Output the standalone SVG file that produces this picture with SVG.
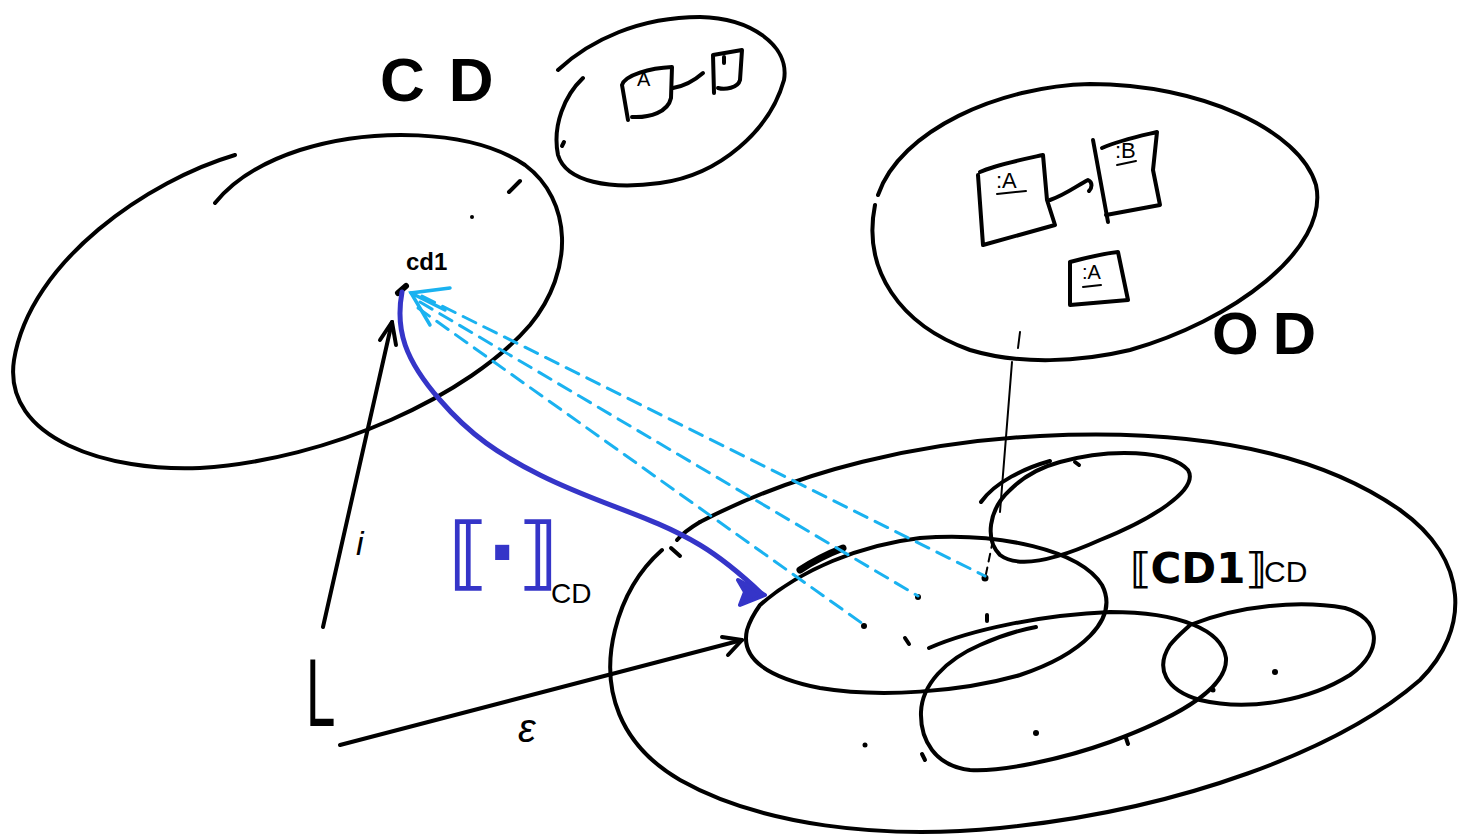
<svg xmlns="http://www.w3.org/2000/svg" width="1468" height="838" viewBox="0 0 1468 838">
<defs>
<style>
.s{fill:none;stroke:#000;stroke-width:4;stroke-linecap:round;stroke-linejoin:round}
.t{fill:none;stroke:#000;stroke-width:2;stroke-linecap:round}
.dot{fill:#000}
.lb{fill:none;stroke:#1ab2f0;stroke-width:3;stroke-dasharray:14 9;stroke-linecap:round}
.lbs{fill:none;stroke:#1ab2f0;stroke-width:3.5;stroke-linecap:round}
.db{fill:none;stroke:#3535c8;stroke-width:5;stroke-linecap:round;stroke-linejoin:round}
.txt{font-family:"Liberation Sans","DejaVu Sans",sans-serif;fill:#000}
</style>
</defs>
<rect width="1468" height="838" fill="#fff"/>

<g id="cd-set">
<path class="s" d="M235,155 C150,180 30,260 14,360 C2,440 110,472 200,468 C330,460 470,395 530,325 C575,270 572,200 525,165 C470,128 370,128 300,150 C260,163 232,182 215,203"/>
<path class="s" d="M520,181 L509,192"/>
<circle class="dot" cx="472" cy="217" r="2"/>
<text class="txt" x="380" y="101" font-size="62" font-weight="bold" letter-spacing="24">CD</text>
</g>

<g id="cd1-node">
<path d="M398,293 L406,286" stroke="#000" stroke-width="6" stroke-linecap="round"/>
<text class="txt" x="406" y="270" font-size="24" font-weight="bold">cd1</text>
</g>

<g id="cd-example">
<path class="s" d="M583,78 C565,95 552,125 558,155 C566,182 610,190 660,183 C720,175 770,130 784,80 C790,45 750,18 700,17 C640,17 590,40 558,70"/>
<path class="s" d="M564,142 L562,146"/>
<path class="s" d="M628,120 L622,85 C625,75 650,68 672,67 L671,98 C668,112 650,118 632,117"/>
<text class="txt" x="637" y="86" font-size="20">A</text>
<path class="s" d="M673,88 C685,86 695,80 703,73"/>
<path class="s" d="M714,93 L713,55 L742,50 L740,80 C738,88 725,90 718,88"/>
<path class="s" d="M724,57 L724,63"/>
</g>

<g id="od-set">
<path class="s" d="M878,195 C900,130 1000,86 1090,84 C1200,84 1300,130 1316,185 C1330,250 1230,322 1130,350 C1080,362 1020,365 970,350 C900,325 862,270 875,205"/>
<path class="s" d="M978,175 L983,245 L1055,225 L1047,200 L1043,155 C1020,160 995,165 980,172"/>
<text class="txt" x="996" y="188" font-size="22">:A</text>
<path class="t" d="M997,194 L1026,191" stroke-width="3"/>
<path class="s" d="M1050,200 C1065,195 1078,185 1088,180 C1093,182 1092,188 1089,191"/>
<path class="s" d="M1093,140 L1108,222"/>
<path class="s" d="M1102,148 C1120,140 1140,136 1157,132 L1153,170 L1160,205 L1106,215"/>
<text class="txt" x="1115" y="158" font-size="22">:B</text>
<path class="t" d="M1117,165 L1136,161" stroke-width="3"/>
<path class="s" d="M1070,262 L1070,305 L1128,300 L1118,252 C1100,254 1085,258 1070,262"/>
<text class="txt" x="1082" y="279" font-size="20">:A</text>
<path class="t" d="M1083,287 L1101,285" stroke-width="3"/>
<text class="txt" x="1212" y="354" font-size="60" font-weight="bold" letter-spacing="14">OD</text>
</g>

<g id="semantic-domain">
<path class="s" d="M700,522 C800,470 920,442 1040,436 C1160,430 1300,440 1400,510 C1470,560 1470,630 1420,680 C1340,750 1180,810 1000,828 C880,840 760,825 680,780 C620,745 600,690 615,630 C625,590 645,565 662,550"/>
<path class="s" d="M671,548 L680,556"/>
<path class="s" d="M700,522 C690,528 682,534 677,540"/>
</g>

<g id="od-image">
<path class="s" d="M760,605 C800,570 860,545 920,538 C1000,532 1080,550 1102,585 C1120,620 1080,655 1020,675 C960,692 880,698 820,688 C770,678 740,660 747,630 C750,620 755,612 760,605"/>
<path d="M800,570 C815,560 830,553 843,548" stroke="#000" stroke-width="7" fill="none" stroke-linecap="round"/>
</g>

<g id="set-b">
<path class="s" d="M981,502 C995,482 1025,468 1050,461"/>
<path class="s" d="M1075,462 L1079,465"/>
<path class="s" d="M1060,462 C1110,448 1170,450 1188,470 C1200,490 1150,520 1100,540 C1060,558 1020,570 1000,555 C985,540 988,510 1010,490 C1025,475 1045,466 1060,462"/>
</g>

<g id="set-c">
<path class="s" d="M929,648 C970,630 1040,615 1110,612 C1180,612 1222,630 1226,658 C1228,690 1170,720 1110,742 C1060,760 1000,772 970,770 C935,766 920,740 921,712 C922,685 945,660 980,645 C1000,636 1020,630 1036,627"/>
</g>

<g id="set-d">
<path class="s" d="M1190,625 C1240,605 1300,600 1345,608 C1380,618 1385,650 1350,675 C1310,700 1250,712 1200,700 C1165,690 1155,668 1170,645 C1178,635 1185,630 1190,625"/>
</g>

<g id="points">
<circle class="dot" cx="985" cy="578" r="3.5"/>
<circle class="dot" cx="918" cy="597" r="3"/>
<circle class="dot" cx="864" cy="626" r="3"/>
<path class="s" d="M905,638 L909,644"/>
<path class="s" d="M987,615 L987,621"/>
<circle class="dot" cx="865" cy="745" r="2.5"/>
<path class="s" d="M922,754 L925,760"/>
<circle class="dot" cx="1036" cy="733" r="3"/>
<path class="s" d="M1126,738 L1128,744"/>
<circle class="dot" cx="1275" cy="672" r="3"/>
<circle class="dot" cx="1213" cy="690" r="2.5"/>
</g>

<g id="labels">
<text class="txt" x="356" y="555" font-size="34" font-style="italic">i</text>
<text class="txt" x="518" y="742" font-size="40" font-style="italic">ε</text>
<text class="txt" transform="translate(306,726) scale(0.55,1)" font-size="96">L</text>
<text x="448" y="580" font-size="80" font-weight="bold" fill="#3535c8" font-family="'DejaVu Sans',sans-serif">⟦·⟧</text>
<text class="txt" x="551" y="603" font-size="28">CD</text>
<text x="1130" y="583" font-size="42" font-weight="bold" font-family="'DejaVu Sans',sans-serif" fill="#000">⟦CD1⟧</text>
<text class="txt" x="1264" y="582" font-size="30">CD</text>
</g>

<g id="connectors">
<path class="t" d="M1020,332 L1018,348"/>
<path class="t" d="M1012,362 L1000,512"/>
<path class="t" d="M993,540 L986,574" stroke-dasharray="8 6"/>
<path class="s" d="M323,627 L392,322"/>
<path class="s" d="M380,340 L392,322 L396,345"/>
<path class="s" d="M340,745 L742,640"/>
<path class="s" d="M722,637 L742,640 L728,655"/>
<path class="lb" d="M422,296 L985,576"/>
<path class="lb" d="M420,302 L918,596"/>
<path class="lb" d="M418,308 L863,624"/>
<path class="lbs" d="M430,325 L411,293 L450,288"/>
<path class="lbs" d="M411,293 L445,310"/>
<path class="db" d="M402,292 C395,330 405,360 440,400 C470,435 500,455 540,475 C600,505 650,515 700,545 C725,560 745,578 762,594"/>
<path d="M765,595 L738,580 L745,592 L740,605 Z" fill="#3535c8" stroke="#3535c8" stroke-width="4" stroke-linejoin="round"/>
</g>
</svg>
